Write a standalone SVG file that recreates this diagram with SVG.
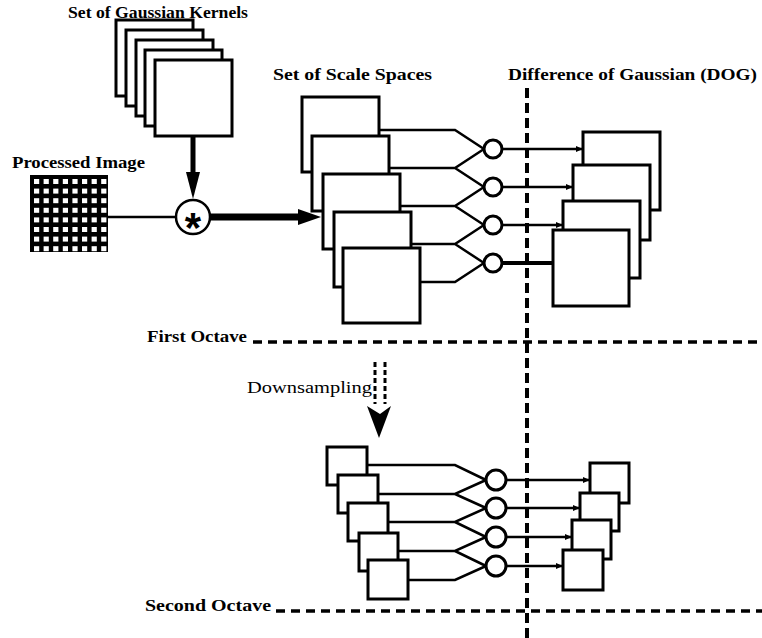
<svg xmlns="http://www.w3.org/2000/svg" width="762" height="638" viewBox="0 0 762 638">
  <defs>
    <style>
      .box { fill: #fff; stroke: #000; stroke-width: 3; }
      .ln { fill: none; stroke: #000; stroke-width: 2.5; }
      .op { fill: #fff; stroke: #000; stroke-width: 3; }
      .sep { fill: none; stroke: #000; stroke-width: 3.5; stroke-dasharray: 9 6; }
      .vsep { fill: none; stroke: #000; stroke-width: 4; stroke-dasharray: 10 5; }
      .lbl { font-family: "Liberation Serif", "Times New Roman", serif; font-weight: bold; font-size: 16px; fill: #000; }
      .lbl-n { font-family: "Liberation Serif", "Times New Roman", serif; font-size: 16px; fill: #000; }
      .cell { fill: #fff; }
    </style>
    <marker id="tip" markerUnits="userSpaceOnUse" markerWidth="8" markerHeight="8" refX="7" refY="4" orient="auto">
      <path d="M0,1 L7,4 L0,7 Z" fill="#000"/>
    </marker>
    <!-- one row of eight pixel cells -->
    <g id="cell-row" class="cell">
      <rect x="0" y="0" width="5.2" height="5"/>
      <rect x="9.6" y="0" width="5.2" height="5"/>
      <rect x="19.2" y="0" width="5.2" height="5"/>
      <rect x="28.8" y="0" width="5.2" height="5"/>
      <rect x="38.4" y="0" width="5.2" height="5"/>
      <rect x="48" y="0" width="5.2" height="5"/>
      <rect x="57.6" y="0" width="5.2" height="5"/>
      <rect x="67.2" y="0" width="5.2" height="5"/>
    </g>
  </defs>

  <!-- section separators -->
  <g id="separators">
    <line class="vsep" x1="527" y1="88" x2="527" y2="638"/>
    <line class="sep" x1="253" y1="342" x2="762" y2="342"/>
    <line class="sep" x1="276" y1="611" x2="762" y2="611"/>
  </g>

  <!-- labels -->
  <g id="labels">
    <text class="lbl" x="68" y="18" textLength="180" lengthAdjust="spacingAndGlyphs">Set of Gaussian Kernels</text>
    <text class="lbl" x="12" y="168" textLength="133" lengthAdjust="spacingAndGlyphs">Processed Image</text>
    <text class="lbl" x="273" y="80" textLength="159" lengthAdjust="spacingAndGlyphs">Set of Scale Spaces</text>
    <text class="lbl" x="508" y="80" textLength="249" lengthAdjust="spacingAndGlyphs">Difference of Gaussian (DOG)</text>
    <text class="lbl" x="147" y="342" textLength="100" lengthAdjust="spacingAndGlyphs">First Octave</text>
    <text class="lbl-n" x="247" y="393" textLength="125" lengthAdjust="spacingAndGlyphs">Downsampling</text>
    <text class="lbl" x="145" y="611" textLength="126" lengthAdjust="spacingAndGlyphs">Second Octave</text>
  </g>

  <!-- Gaussian kernel stack -->
  <g id="kernels">
    <rect class="box" x="116" y="20" width="77" height="76"/>
    <rect class="box" x="126" y="30" width="77" height="76"/>
    <rect class="box" x="136" y="40" width="77" height="76"/>
    <rect class="box" x="145" y="50" width="77" height="76"/>
    <rect class="box" x="155" y="60" width="77" height="76"/>
  </g>

  <!-- input image: 8x8 pixel grid -->
  <g id="processed-image">
    <rect x="30" y="175" width="78" height="77" fill="#000"/>
    <use href="#cell-row" x="34" y="179"/>
    <use href="#cell-row" x="34" y="188.6"/>
    <use href="#cell-row" x="34" y="198.2"/>
    <use href="#cell-row" x="34" y="207.8"/>
    <use href="#cell-row" x="34" y="217.4"/>
    <use href="#cell-row" x="34" y="227"/>
    <use href="#cell-row" x="34" y="236.6"/>
    <use href="#cell-row" x="34" y="246.2"/>
  </g>

  <!-- convolution operator -->
  <g id="convolution">
    <circle cx="193" cy="217" r="17" fill="#fff" stroke="#000" stroke-width="2.5"/>
    <text x="193" y="242" text-anchor="middle" font-family="Liberation Sans, Arial, sans-serif" font-weight="bold" font-size="42">*</text>
  </g>

  <!-- first octave: scale spaces -->
  <g id="scale-spaces-1">
    <rect class="box" x="302" y="97" width="77" height="75"/>
    <rect class="box" x="312" y="136" width="77" height="75"/>
    <rect class="box" x="323" y="174" width="77" height="75"/>
    <rect class="box" x="334" y="212" width="77" height="75"/>
    <rect class="box" x="343" y="248" width="77" height="75"/>
  </g>

  <!-- first octave: subtraction nodes -->
  <g id="diff-nodes-1">
    <circle class="op" cx="493" cy="149" r="9"/>
    <circle class="op" cx="493" cy="187" r="9"/>
    <circle class="op" cx="493" cy="225" r="9"/>
    <circle class="op" cx="493" cy="263" r="9"/>
  </g>

  <!-- first octave: DOG images -->
  <g id="dog-1">
    <rect class="box" x="583" y="132" width="77" height="78"/>
    <rect class="box" x="573" y="165" width="77" height="75"/>
    <rect class="box" x="563" y="201" width="77" height="77"/>
    <rect class="box" x="553" y="230" width="76" height="76"/>
  </g>

  <!-- second octave: scale spaces -->
  <g id="scale-spaces-2">
    <rect class="box" x="327" y="447" width="40" height="38"/>
    <rect class="box" x="338" y="475" width="40" height="38"/>
    <rect class="box" x="348" y="503" width="40" height="38"/>
    <rect class="box" x="359" y="533" width="39" height="38"/>
    <rect class="box" x="368" y="560" width="40" height="39"/>
  </g>

  <!-- second octave: subtraction nodes -->
  <g id="diff-nodes-2">
    <circle class="op" cx="496" cy="480" r="10"/>
    <circle class="op" cx="496" cy="508" r="10"/>
    <circle class="op" cx="496" cy="537" r="10"/>
    <circle class="op" cx="496" cy="566" r="10"/>
  </g>

  <!-- second octave: DOG images -->
  <g id="dog-2">
    <rect class="box" x="590" y="463" width="39" height="40"/>
    <rect class="box" x="580" y="493" width="39" height="38"/>
    <rect class="box" x="572" y="520" width="39" height="39"/>
    <rect class="box" x="563" y="550" width="40" height="40"/>
  </g>

  <!-- connectors -->
  <g id="connectors">
    <!-- image into convolution -->
    <line class="ln" x1="108" y1="217" x2="176" y2="217"/>
    <!-- kernels into convolution -->
    <line x1="193" y1="136" x2="193" y2="175" stroke="#000" stroke-width="5"/>
    <polygon points="186,172 200,172 193,199" fill="#000"/>
    <!-- convolution result into scale spaces -->
    <line x1="210" y1="217" x2="300" y2="217" stroke="#000" stroke-width="7"/>
    <polygon points="298,209 321,217 298,225" fill="#000"/>

    <!-- first octave: adjacent scales into subtraction -->
    <path class="ln" d="M379,130 H455 L484,149"/>
    <path class="ln" d="M389,168 H455 L484,149 M455,168 L484,187"/>
    <path class="ln" d="M400,206 H455 L484,187 M455,206 L484,225"/>
    <path class="ln" d="M411,244 H455 L484,225 M455,244 L484,263"/>
    <path class="ln" d="M420,282 H455 L484,263"/>
    <!-- first octave: subtraction into DOG -->
    <line class="ln" x1="502" y1="149" x2="583" y2="149" marker-end="url(#tip)"/>
    <line class="ln" x1="502" y1="187" x2="573" y2="187" marker-end="url(#tip)"/>
    <line class="ln" x1="502" y1="225" x2="563" y2="225" marker-end="url(#tip)"/>
    <line x1="502" y1="263" x2="553" y2="263" stroke="#000" stroke-width="4"/>

    <!-- downsampling between octaves -->
    <line x1="375" y1="362" x2="375" y2="404" stroke="#000" stroke-width="3" stroke-dasharray="5 3"/>
    <line x1="385" y1="362" x2="385" y2="404" stroke="#000" stroke-width="3" stroke-dasharray="5 3"/>
    <polygon points="367,406 380,414 391,406 379,438" fill="#000"/>

    <!-- second octave: adjacent scales into subtraction -->
    <path class="ln" d="M367,465 H455 L486,480"/>
    <path class="ln" d="M378,494 H455 L486,480 M455,494 L486,508"/>
    <path class="ln" d="M388,522 H455 L486,508 M455,522 L486,537"/>
    <path class="ln" d="M398,551 H455 L486,537 M455,551 L486,566"/>
    <path class="ln" d="M408,580 H455 L486,566"/>
    <!-- second octave: subtraction into DOG -->
    <line class="ln" x1="506" y1="480" x2="590" y2="480" marker-end="url(#tip)"/>
    <line class="ln" x1="506" y1="508" x2="580" y2="508" marker-end="url(#tip)"/>
    <line class="ln" x1="506" y1="537" x2="572" y2="537" marker-end="url(#tip)"/>
    <line class="ln" x1="506" y1="566" x2="563" y2="566" marker-end="url(#tip)"/>
  </g>
</svg>
